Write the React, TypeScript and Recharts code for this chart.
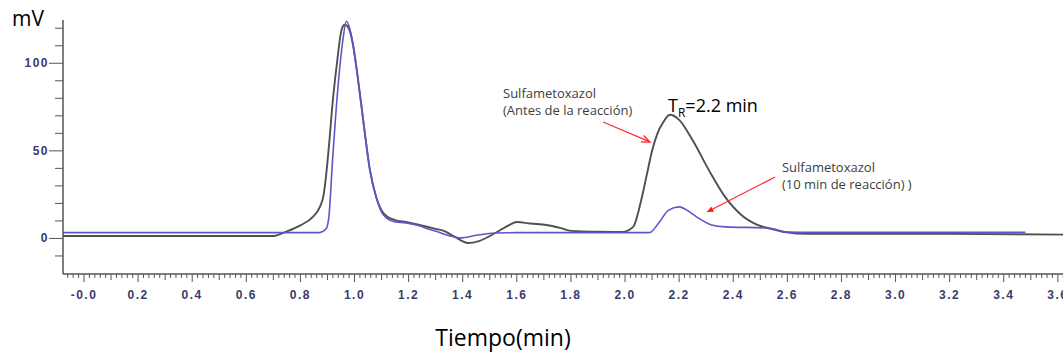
import { LineChart, Line, XAxis, YAxis, ReferenceDot, ReferenceLine } from "recharts"

// chromatogram before the reaction (gray)
const grayTime = [-0.08, 0.7, 0.75, 0.8, 0.846, 0.872, 0.886, 0.895, 0.905, 0.92, 0.935, 0.952, 0.963, 0.975, 0.994, 1.012, 1.035, 1.057, 1.08, 1.1, 1.12, 1.15, 1.19, 1.24, 1.3, 1.33, 1.37, 1.42, 1.46, 1.52, 1.57, 1.6, 1.65, 1.71, 1.76, 1.8, 1.9, 1.99, 2.03, 2.06, 2.08, 2.1, 2.12, 2.14, 2.166, 2.2, 2.25, 2.31, 2.37, 2.43, 2.49, 2.56, 2.59, 2.68, 3.2, 3.62]
const grayMv = [1.4, 1.4, 4, 7.5, 12.3, 18, 25, 36, 52, 79, 100, 119, 122, 121, 111, 92, 64, 39, 23.7, 16, 12.5, 10.5, 9.4, 7.7, 5.5, 4.3, 1, -2.6, -1.5, 3.1, 7.5, 9.4, 8.5, 7.7, 6, 4.3, 3.8, 3.7, 6.6, 22, 36, 50, 60, 66, 70.6, 67.7, 56, 39, 23.7, 13.4, 7.7, 4.9, 3.7, 2.6, 2.6, 2.2]

// chromatogram after 10 min of reaction (blue)
const blueTime = [-0.08, 0.87, 0.895, 0.905, 0.919, 0.937, 0.956, 0.97, 0.982, 0.994, 1.012, 1.035, 1.057, 1.08, 1.1, 1.12, 1.15, 1.19, 1.24, 1.27, 1.31, 1.35, 1.39, 1.45, 1.52, 1.6, 2.09, 2.125, 2.16, 2.2, 2.24, 2.27, 2.32, 2.37, 2.52, 2.59, 2.7, 3.48]
const blueMv = [3.3, 3.3, 5.5, 12, 45, 83, 112, 124, 120, 111, 92, 64, 39, 23.7, 15, 11.5, 9.4, 8.9, 7.2, 5.5, 3.7, 1.5, 0.3, 1.8, 3.1, 3.3, 3.3, 8.9, 16, 18, 15, 11.7, 7.7, 6.6, 6, 3.7, 3.5, 3.5]

const xLabels = [0, 0.2, 0.4, 0.6, 0.8, 1.0, 1.2, 1.4, 1.6, 1.8, 2.0, 2.2, 2.4, 2.6, 2.8, 3.0, 3.2, 3.4, 3.6]
const yLabels = [0, 50, 100]

const gray = grayTime.map((t, i) => ({ t, mv: grayMv[i] }))
const blue = blueTime.map((t, i) => ({ t, mv: blueMv[i] }))

// minor ticks every 0.02 min, every 10 mV
const xTicks: number[] = []
for (let k = -3; k <= 181; k++) xTicks.push(k / 50)
const yTicks: number[] = []
for (let v = -10; v <= 120; v += 10) yTicks.push(v)

const axisColor = "#555"
const tickFont = {
  fontFamily: "Liberation Sans, Arial, sans-serif",
  fontSize: 12,
  fontWeight: 700,
  letterSpacing: 1.5,
  fill: "#3b3b6b",
}
const noteFont = { fontFamily: "Open Sans, sans-serif", fontSize: 13, fill: "#404040" }

function XTick(props: any) {
  const { x, y, payload } = props
  const k = Math.round(payload.value * 50)
  const major = k % 10 === 0
  const len = major ? 8 : k % 5 === 0 ? 6 : 4
  const label = xLabels.find((l) => Math.abs(l - payload.value) < 1e-6)
  return (
    <g>
      <line x1={x} x2={x} y1={y} y2={y + len} stroke={axisColor} strokeWidth={1} />
      {label !== undefined && (
        <text x={x} y={y + 25} textAnchor="middle" {...tickFont}>
          {label === 0 ? "-0.0" : label.toFixed(1)}
        </text>
      )}
    </g>
  )
}

function YTick(props: any) {
  const { x, y, payload } = props
  const major = yLabels.includes(payload.value)
  return (
    <g>
      <line x1={x - (major ? 14 : 8)} x2={x} y1={y} y2={y} stroke={axisColor} strokeWidth={1} />
      {major && (
        <text x={x - 14} y={y + 4} textAnchor="end" {...tickFont}>
          {payload.value}
        </text>
      )}
    </g>
  )
}

function Arrow(props: any, filled: boolean) {
  const { x1, y1, x2, y2 } = props
  const a = Math.atan2(y2 - y1, x2 - x1)
  const s = filled ? 7 : 9
  const w = filled ? 0.45 : 0.4
  const p1 = [x2 - s * Math.cos(a - w), y2 - s * Math.sin(a - w)]
  const p2 = [x2 - s * Math.cos(a + w), y2 - s * Math.sin(a + w)]
  return (
    <g>
      <line x1={x1} y1={y1} x2={x2} y2={y2} stroke="#ff2a2a" strokeWidth={1.2} />
      {filled ? (
        <polygon points={`${x2},${y2} ${p1[0]},${p1[1]} ${p2[0]},${p2[1]}`} fill="#ff1a1a" />
      ) : (
        <polyline points={`${p1[0]},${p1[1]} ${x2},${y2} ${p2[0]},${p2[1]}`} fill="none" stroke="#ff2a2a" strokeWidth={1.4} />
      )}
    </g>
  )
}

export default function App() {
  return (
    <div style={{ position: "absolute", left: 0, top: 0, width: 1063, height: 355, background: "#fff" }}>
      <LineChart width={1063} height={355} margin={{ top: 20, right: 0, bottom: 51, left: 0 }}>
        <XAxis
          type="number"
          dataKey="t"
          domain={[-0.0776, 3.619]}
          allowDataOverflow
          ticks={xTicks}
          interval={0}
          tickSize={0}
          tickMargin={0}
          tickLine={false}
          tick={<XTick />}
          height={30}
          stroke={axisColor}
          strokeWidth={1.5}
        />
        <YAxis
          type="number"
          dataKey="mv"
          domain={[-20.3, 124.7]}
          allowDataOverflow
          ticks={yTicks}
          interval={0}
          tickSize={0}
          tickMargin={0}
          tickLine={false}
          tick={<YTick />}
          width={63}
          stroke={axisColor}
          strokeWidth={1.5}
        />
        <Line data={gray} dataKey="mv" type="monotone" stroke="#505050" strokeWidth={1.9} dot={false} isAnimationActive={false} />
        <Line data={blue} dataKey="mv" type="monotone" stroke="#5858cc" strokeWidth={1.6} dot={false} isAnimationActive={false} />
        <ReferenceLine segment={[{ x: 1.919, y: 66.5 }, { x: 2.092, y: 55.1 }]} shape={(p: any) => Arrow(p, false)} />
        <ReferenceLine segment={[{ x: 2.555, y: 35.1 }, { x: 2.303, y: 15.1 }]} shape={(p: any) => Arrow(p, true)} />
        <ReferenceDot
          x={1.549}
          y={80.2}
          r={0}
          shape={(p: any) => (
            <text x={p.cx} y={p.cy} {...noteFont}>
              <tspan x={p.cx}>Sulfametoxazol</tspan>
              <tspan x={p.cx} dy={17}>(Antes de la reacción)</tspan>
            </text>
          )}
        />
        <ReferenceDot
          x={2.159}
          y={72.2}
          r={0}
          shape={(p: any) => (
            <text x={p.cx} y={p.cy} fontFamily="Open Sans, sans-serif" fontSize={18} fill="#000">
              T<tspan fontSize={12} dy={5}>R</tspan>
              <tspan dy={-5}>=2.2 min</tspan>
            </text>
          )}
        />
        <ReferenceDot
          x={2.58}
          y={38}
          r={0}
          shape={(p: any) => (
            <text x={p.cx} y={p.cy} {...noteFont}>
              <tspan x={p.cx}>Sulfametoxazol</tspan>
              <tspan x={p.cx} dy={17}>(10 min de reacción) )</tspan>
            </text>
          )}
        />
      </LineChart>
      <div style={{ position: "absolute", left: 12, top: 8, fontFamily: "Open Sans, sans-serif", fontSize: 21, color: "#000", lineHeight: 1 }}>
        mV
      </div>
      <div style={{ position: "absolute", left: 0, width: 1006, top: 326, textAlign: "center", fontFamily: "Open Sans, sans-serif", fontSize: 23, color: "#000", lineHeight: 1 }}>
        Tiempo(min)
      </div>
    </div>
  )
}
